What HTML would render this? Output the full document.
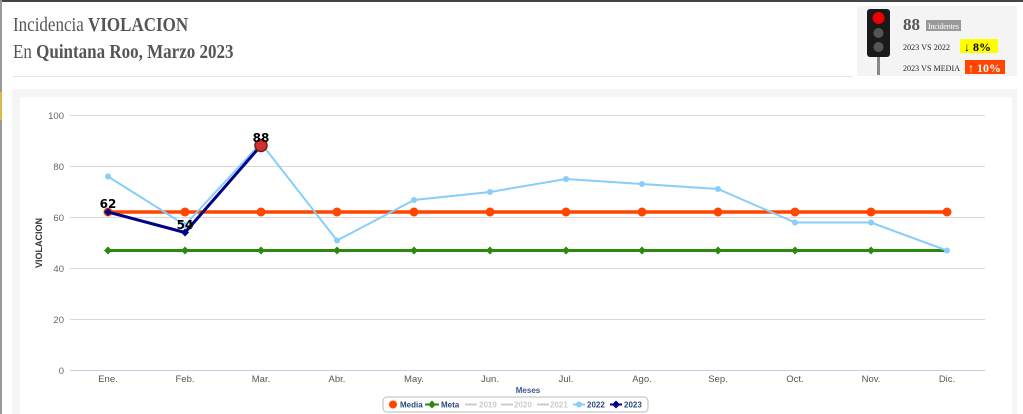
<!DOCTYPE html>
<html><head><meta charset="utf-8"><style>
body{margin:0;width:1023px;height:414px;overflow:hidden;background:#fff;font-family:"Liberation Serif",serif;position:relative}
</style></head><body>
<div style="position:absolute;left:0;top:0;width:1023px;height:2px;background:#444"></div>
<div style="position:absolute;left:0;top:0;width:2px;height:414px;background:#999"></div>
<div style="position:absolute;left:0;top:92px;width:2px;height:28px;background:#e0b84a"></div>
<div style="position:absolute;left:13px;top:12px;font-size:20px;color:#555;line-height:27px;transform:scaleX(0.85);transform-origin:0 0;white-space:nowrap">Incidencia <b>VIOLACION</b><br>En <b>Quintana Roo, Marzo 2023</b></div>
<div style="position:absolute;left:13px;top:76px;width:840px;height:1px;background:#e6e6e6"></div>
<div style="position:absolute;left:857px;top:6px;width:160px;height:70px;background:#f4f4f4"></div>
<svg style="position:absolute;left:0;top:0" width="1023" height="414">
<rect x="867" y="9" width="23" height="48" rx="3" fill="#1a1a1a"/>
<rect x="877" y="57" width="3" height="18" fill="#888"/>
<circle cx="878.5" cy="18" r="6" fill="#e00"/>
<circle cx="878.5" cy="33" r="5" fill="#555"/>
<circle cx="878.5" cy="47" r="5" fill="#555"/>
<text x="903" y="30" font-size="17" font-weight="bold" fill="#555" font-family="Liberation Serif">88</text>
<rect x="926" y="20" width="35" height="11" fill="#999"/>
<text x="943.5" y="29" font-size="8" fill="#fff" text-anchor="middle" font-family="Liberation Serif" textLength="31">Incidentes</text>
<text x="903" y="50" font-size="8" fill="#222" font-family="Liberation Serif" textLength="47">2023 VS 2022</text>
<rect x="960" y="39" width="38" height="14" fill="#ffff00"/>
<text x="964" y="51" font-size="12" font-weight="bold" fill="#000" font-family="Liberation Serif">↓  8%</text>
<text x="903" y="71" font-size="8" fill="#222" font-family="Liberation Serif" textLength="57">2023 VS MEDIA</text>
<rect x="965" y="60" width="40" height="14" fill="#ff4500"/>
<text x="968" y="72" font-size="12" font-weight="bold" fill="#fff" font-family="Liberation Serif">↑ 10%</text>

<rect x="12" y="89" width="1005" height="325" fill="#f5f5f5"/>
<rect x="20" y="97" width="992" height="317" fill="#fff"/>
<g stroke="#d8d8d8" stroke-width="1">
<line x1="70" y1="115.5" x2="985" y2="115.5"/><line x1="70" y1="166.5" x2="985" y2="166.5"/>
<line x1="70" y1="217.5" x2="985" y2="217.5"/><line x1="70" y1="268.5" x2="985" y2="268.5"/>
<line x1="70" y1="319.5" x2="985" y2="319.5"/><line x1="70" y1="370.5" x2="985" y2="370.5" stroke="#c0d0e0"/>
</g>
<g font-family="Liberation Sans" font-size="9.5" fill="#666" text-anchor="end">
<text x="64" y="119">100</text><text x="64" y="170">80</text><text x="64" y="221">60</text><text x="64" y="272">40</text><text x="64" y="323">20</text><text x="64" y="374">0</text>
</g>
<text transform="translate(42,243) rotate(-90)" font-family="Liberation Sans" font-size="9" font-weight="bold" fill="#333" text-anchor="middle">VIOLACION</text>
<g font-family="Liberation Sans" font-size="9.5" fill="#555" text-anchor="middle">
<text x="108" y="382">Ene.</text><text x="185" y="382">Feb.</text><text x="261" y="382">Mar.</text><text x="337" y="382">Abr.</text><text x="414" y="382">May.</text><text x="490" y="382">Jun.</text><text x="566" y="382">Jul.</text><text x="642" y="382">Ago.</text><text x="718" y="382">Sep.</text><text x="795" y="382">Oct.</text><text x="871" y="382">Nov.</text><text x="947" y="382">Dic.</text>
</g>
<text x="528" y="393" font-family="Liberation Sans" font-size="8" font-weight="bold" fill="#3a5a8a" text-anchor="middle">Meses</text>
<polyline points="108,212 947,212" stroke="#ff4500" stroke-width="3.5" fill="none"/>
<g fill="#ff4500"><circle cx="108" cy="212" r="4.5"/><circle cx="185" cy="212" r="4.5"/><circle cx="261" cy="212" r="4.5"/><circle cx="337" cy="212" r="4.5"/><circle cx="414" cy="212" r="4.5"/><circle cx="490" cy="212" r="4.5"/><circle cx="566" cy="212" r="4.5"/><circle cx="642" cy="212" r="4.5"/><circle cx="718" cy="212" r="4.5"/><circle cx="795" cy="212" r="4.5"/><circle cx="871" cy="212" r="4.5"/><circle cx="947" cy="212" r="4.5"/></g>
<polyline points="108,250.5 947,250.5" stroke="#2a8a10" stroke-width="3" fill="none"/>
<g fill="#2a8a10"><path d="M108 246.5l4 4-4 4-4-4z"/><path d="M185 246.5l4 4-4 4-4-4z"/><path d="M261 246.5l4 4-4 4-4-4z"/><path d="M337 246.5l4 4-4 4-4-4z"/><path d="M414 246.5l4 4-4 4-4-4z"/><path d="M490 246.5l4 4-4 4-4-4z"/><path d="M566 246.5l4 4-4 4-4-4z"/><path d="M642 246.5l4 4-4 4-4-4z"/><path d="M718 246.5l4 4-4 4-4-4z"/><path d="M795 246.5l4 4-4 4-4-4z"/><path d="M871 246.5l4 4-4 4-4-4z"/></g>
<polyline points="108,176.5 185,225 261,143 337,240.5 414,200 490,192 566,179 642,184 718,189 795,222.5 871,222.5 947,250.5" stroke="#87cefa" stroke-width="2" fill="none"/>
<g fill="#87cefa"><circle cx="108" cy="176.5" r="3"/><circle cx="185" cy="225" r="3"/><circle cx="337" cy="240.5" r="3"/><circle cx="414" cy="200" r="3"/><circle cx="490" cy="192" r="3"/><circle cx="566" cy="179" r="3"/><circle cx="642" cy="184" r="3"/><circle cx="718" cy="189" r="3"/><circle cx="795" cy="222.5" r="3"/><circle cx="871" cy="222.5" r="3"/><circle cx="947" cy="250.5" r="3"/></g>
<polyline points="108,212 185,232.5 261,145.5" stroke="#00008b" stroke-width="3" fill="none"/>
<g fill="#00008b"><path d="M108 208l4 4-4 4-4-4z"/><path d="M185 228.5l4 4-4 4-4-4z"/></g>
<circle cx="261" cy="145.5" r="6" fill="#d03030" stroke="#7a1a1a" stroke-width="1.5"/>
<g font-family="DejaVu Sans" font-size="12" font-weight="bold" fill="#000" text-anchor="middle">
<text x="108" y="208">62</text><text x="185" y="229">54</text><text x="261" y="142">88</text>
</g>
<rect x="383" y="397" width="265" height="15" rx="4" fill="#fff" stroke="#bbb"/>
<g font-family="Liberation Sans" font-size="8" font-weight="bold">
<circle cx="393" cy="404.5" r="4" fill="#ff4500"/><text x="400" y="407.5" fill="#2a4a7a">Media</text>
<path d="M432 400.5l4 4-4 4-4-4z" fill="#2a8a10"/><rect x="425" y="403.5" width="14" height="2" fill="#2a8a10"/><text x="441" y="407.5" fill="#2a4a7a">Meta</text>
<rect x="465" y="403.5" width="12" height="2" fill="#ccc"/><text x="479" y="407.5" fill="#ccc">2019</text>
<rect x="501" y="403.5" width="12" height="2" fill="#ccc"/><text x="514" y="407.5" fill="#ccc">2020</text>
<rect x="537" y="403.5" width="12" height="2" fill="#ccc"/><text x="550" y="407.5" fill="#ccc">2021</text>
<rect x="573" y="403.5" width="12" height="2" fill="#87cefa"/><circle cx="579" cy="404.5" r="3" fill="#87cefa"/><text x="587" y="407.5" fill="#2a4a7a">2022</text>
<rect x="610" y="403.5" width="12" height="2" fill="#00008b"/><path d="M616 400.5l4 4-4 4-4-4z" fill="#00008b"/><text x="624" y="407.5" fill="#2a4a7a">2023</text>
</g>
</svg>
</body></html>
